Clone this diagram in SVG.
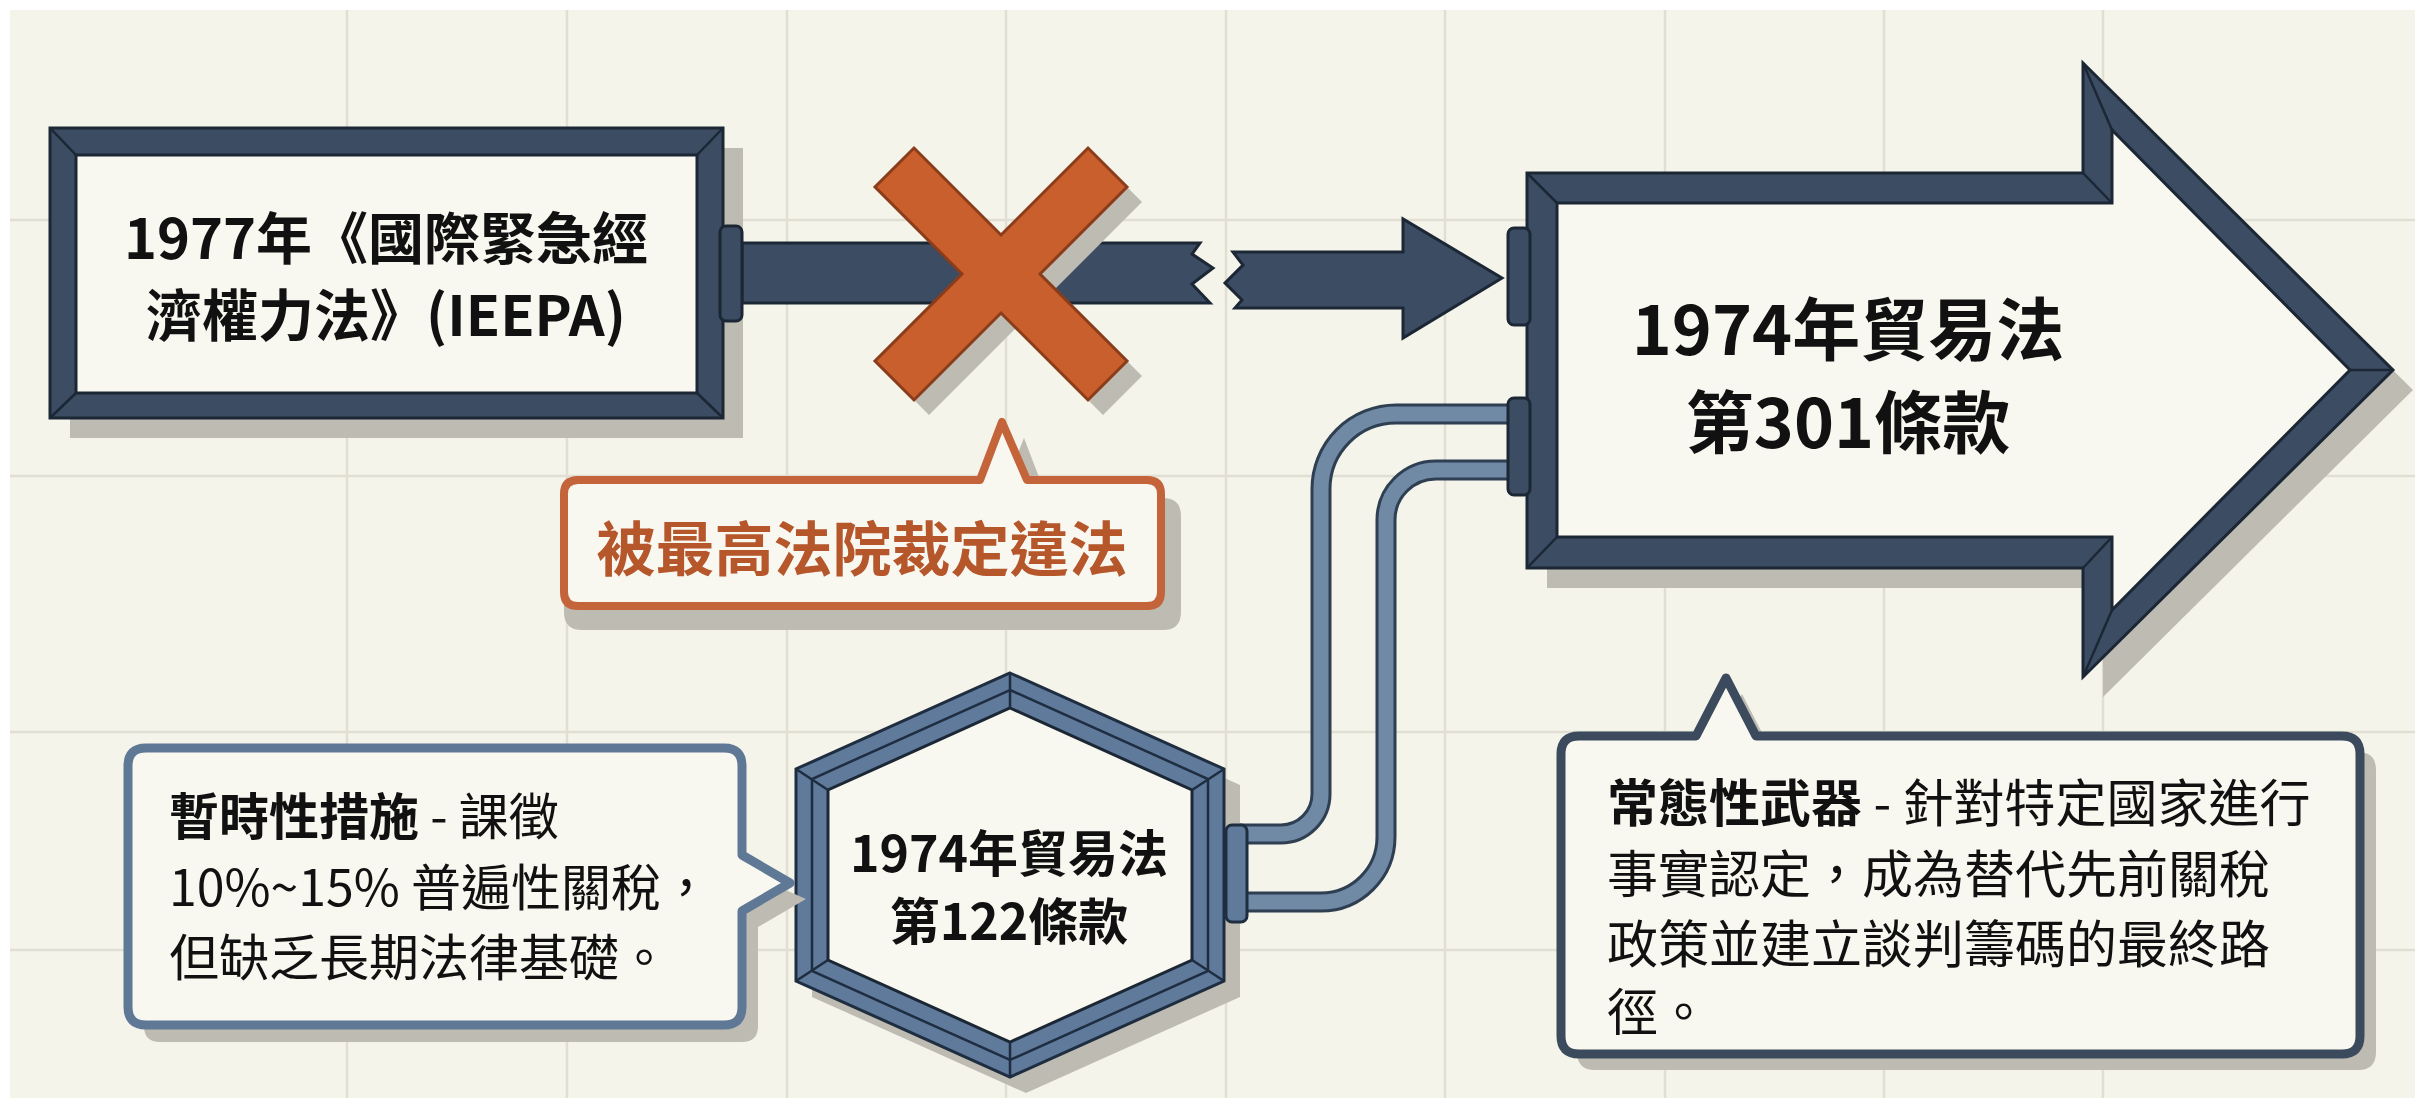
<svg xmlns="http://www.w3.org/2000/svg" width="2425" height="1108" viewBox="0 0 2425 1108">
<defs>
<style>
.grid{stroke:#E1DFD4;stroke-width:2.5;fill:none}
.shadow{fill:#BDBBB2}
.navy{fill:#3B4C63;stroke:#1C2735;stroke-width:3;stroke-linejoin:miter}
.cream{fill:#F8F7F0;stroke:#1C2735;stroke-width:3}
.miter{stroke:#1C2735;stroke-width:2.5}
.hexf{fill:#5F7A9A;stroke:#1F2D40;stroke-width:3}
.hexl{fill:none;stroke:#1F2D40;stroke-width:2.5}
.t{font-family:"Noto Sans CJK TC","Noto Sans CJK SC",sans-serif;fill:#111}
.b{font-weight:700}
.r{font-weight:400}
.pipeo{fill:none;stroke:#2F3F52;stroke-width:21}
.pipei{fill:none;stroke:#7089A5;stroke-width:15}
</style>
</defs>
<rect x="0" y="0" width="2425" height="1108" fill="#FFFFFF"/>
<rect x="10" y="10" width="2405" height="1088" fill="#F5F4EA"/>
<g id="grid">
<path class="grid" d="M347 10V1098M567 10V1098M787 10V1098M1006 10V1098M1226 10V1098M1445 10V1098M1665 10V1098M1884 10V1098M2103 10V1098M10 220H2415M10 476H2415M10 732H2415M10 950H2415"/>
</g>

<g id="connectors">
<polygon class="navy" points="742,243 1200,243 1192,254 1213,268 1192,284 1210,303 742,303"/>
<polygon class="navy" points="1233,252 1243,265 1225,283 1242,300 1235,308 1403,308 1403,338 1502,278 1403,219 1403,252"/>
<path class="pipeo" d="M1240 834H1281A40 40 0 0 0 1321 794V489A75 75 0 0 1 1396 414H1512"/>
<path class="pipei" d="M1240 834H1281A40 40 0 0 0 1321 794V489A75 75 0 0 1 1396 414H1512"/>
<path class="pipeo" d="M1240 902H1321A65 65 0 0 0 1386 837V520A50 50 0 0 1 1436 470H1512"/>
<path class="pipei" d="M1240 902H1321A65 65 0 0 0 1386 837V520A50 50 0 0 1 1436 470H1512"/>
</g>

<g id="ieepa">
<rect class="shadow" x="70" y="148" width="673" height="290"/>
<rect class="navy" x="50" y="128" width="673" height="290"/>
<rect class="cream" x="76" y="155" width="621" height="238"/>
<path class="miter" d="M50 128L76 155M723 128L697 155M50 418L76 393M723 418L697 393"/>
<rect class="navy" x="720" y="226" width="22" height="95" rx="6"/>
<text class="t b" font-size="56" text-anchor="middle"><tspan x="386" y="259">1977年《國際緊急經</tspan><tspan x="386" y="336">濟權力法》(IEEPA)</tspan></text>
</g>

<g id="x-mark">
<g transform="translate(1016,289)"><polygon class="shadow" points="0,-39 87,-126 126,-87 39,0 126,87 87,126 0,39 -87,126 -126,87 -39,0 -126,-87 -87,-126"/></g>
<g transform="translate(1001,274)"><polygon fill="#C95F2C" stroke="#8A3C1B" stroke-width="3" points="0,-39 87,-126 126,-87 39,0 126,87 87,126 0,39 -87,126 -126,87 -39,0 -126,-87 -87,-126"/></g>
</g>

<g id="ruling-callout">
<path class="shadow" d="M582 498H1000L1024 438L1047 498H1163Q1181 498 1181 516V612Q1181 630 1163 630H582Q564 630 564 612V516Q564 498 582 498Z"/>
<path d="M578 480H980L1002 422L1027 480H1147Q1161 480 1161 494V592Q1161 606 1147 606H578Q564 606 564 592V494Q564 480 578 480Z" fill="#F8F7F0" stroke="#C4643A" stroke-width="8" stroke-linejoin="round"/>
<text class="t b" x="862" y="571" font-size="59" text-anchor="middle" style="fill:#B5562B">被最高法院裁定違法</text>
</g>

<g id="sec301">
<polygon class="shadow" points="1547,193 2103,193 2103,83 2413,390 2103,697 2103,588 1547,588"/>
<polygon class="navy" points="1527,173 2083,173 2083,63 2393,370 2083,677 2083,568 1527,568"/>
<polygon class="cream" points="1557,203 2112,203 2112,130 2350,370 2112,610 2112,537 1557,537"/>
<path class="miter" d="M1527 173L1557 203M1527 568L1557 537M2083 173L2112 203M2083 568L2112 537M2083 63L2112 130M2083 677L2112 610M2393 370L2350 370"/>
<rect class="navy" x="1508" y="228" width="22" height="97" rx="6"/>
<rect class="navy" x="1508" y="398" width="22" height="97" rx="6"/>
<text class="t b" font-size="68" text-anchor="middle"><tspan x="1848" y="355">1974年貿易法</tspan><tspan x="1848" y="448">第301條款</tspan></text>
</g>

<g id="sec122">
<polygon class="shadow" points="1026,689 1240,785 1240,997 1026,1093 812,997 812,785"/>
<polygon class="hexf" points="1010,673 1224,769 1224,981 1010,1077 796,981 796,769"/>
<polygon class="hexl" points="1010,690 1208,779 1208,971 1010,1060 812,971 812,779"/>
<polygon class="cream" points="1010,708 1192,790 1192,960 1010,1042 828,960 828,790"/>
<path class="hexl" d="M1010 673V708M1224 769L1192 790M1224 981L1192 960M1010 1077V1042M796 981L828 960M796 769L828 790"/>
<rect class="hexf" x="1226" y="825" width="21" height="97" rx="6"/>
<text class="t b" font-size="50" text-anchor="middle"><tspan x="1009" y="872">1974年貿易法</tspan><tspan x="1009" y="940">第122條款</tspan></text>
</g>

<g id="temp-callout">
<path class="shadow" d="M162 764H742V871L806 899L758 927V1026Q758 1042 742 1042H160Q144 1042 144 1026V780Q144 764 162 764Z"/>
<path d="M146 748H724Q742 748 742 766V855L790 883L742 911V1007Q742 1025 724 1025H146Q128 1025 128 1007V766Q128 748 146 748Z" fill="#F8F7F0" stroke="#5F7896" stroke-width="9" stroke-linejoin="round"/>
<text class="t" font-size="50"><tspan x="169" y="835" font-weight="700">暫時性措施</tspan><tspan font-weight="400"> - 課徵</tspan><tspan x="169" y="906" font-weight="400">10%~15% 普遍性關稅，</tspan><tspan x="169" y="976" font-weight="400">但缺乏長期法律基礎。</tspan></text>
</g>

<g id="perm-callout">
<path class="shadow" d="M1595 752H1712L1742 694L1772 752H2358Q2376 752 2376 770V1052Q2376 1070 2358 1070H1595Q1577 1070 1577 1052V770Q1577 752 1595 752Z"/>
<path d="M1579 736H1696L1726 678L1756 736H2342Q2360 736 2360 754V1036Q2360 1054 2342 1054H1579Q1561 1054 1561 1036V754Q1561 736 1579 736Z" fill="#F8F7F0" stroke="#3B4A5C" stroke-width="9" stroke-linejoin="round"/>
<text class="t" font-size="51"><tspan x="1607" y="822" font-weight="700">常態性武器</tspan><tspan font-weight="400"> - 針對特定國家進行</tspan><tspan x="1607" y="893" font-weight="400">事實認定，成為替代先前關稅</tspan><tspan x="1607" y="963" font-weight="400">政策並建立談判籌碼的最終路</tspan><tspan x="1607" y="1031" font-weight="400">徑。</tspan></text>
</g>
</svg>
